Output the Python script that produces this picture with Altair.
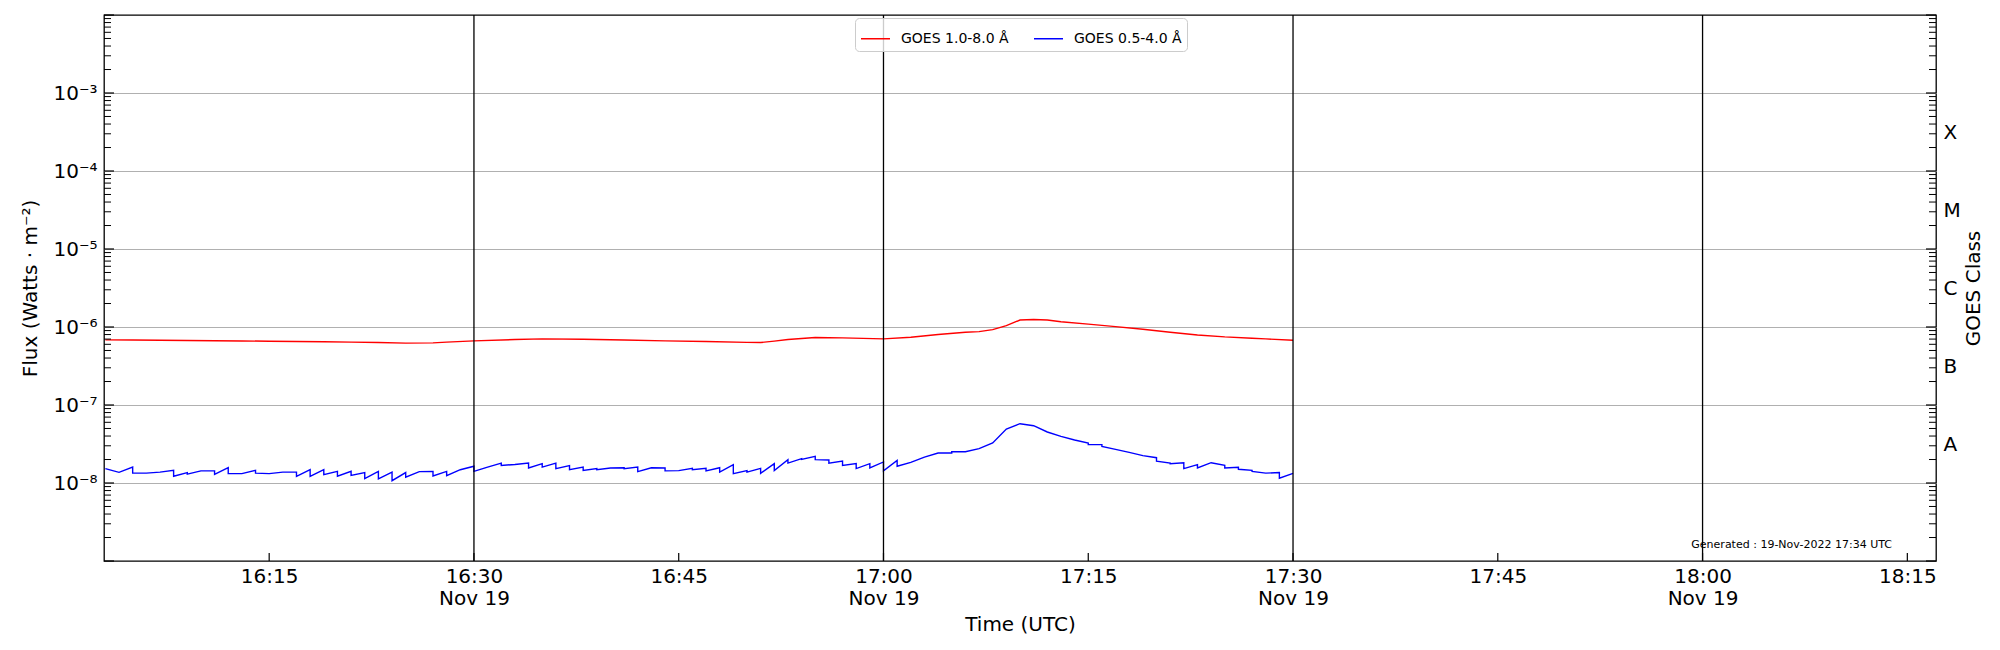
import json
import pandas as pd
import altair as alt

# ---------------- data ----------------
SERIES = ["GOES 1.0-8.0 Å", "GOES 0.5-4.0 Å"]
COLORS = ["red", "blue"]

# minutes after 16:00 UTC, 19-Nov-2022
red_minutes = [3, 5, 7, 9, 11, 13, 15, 17, 19, 21, 23, 25, 27, 28, 30, 33, 35, 38, 41, 44,
               47, 50, 51, 52, 53, 55, 57, 60, 62, 64, 66, 67, 68, 69, 70, 71, 72, 73, 75, 77,
               79, 81, 83, 85, 87, 88, 90]
# flux in units of 1e-7 W/m^2
red_flux_e7 = [6.84, 6.80, 6.75, 6.70, 6.66, 6.62, 6.58, 6.52, 6.46, 6.40, 6.32, 6.22, 6.26, 6.40,
               6.64, 6.90, 7.04, 6.98, 6.80, 6.64, 6.51, 6.36, 6.32, 6.60, 6.90, 7.32, 7.25, 7.04,
               7.39, 8.00, 8.56, 8.73, 9.25, 10.4, 12.3, 12.5, 12.3, 11.7, 10.9, 10.1, 9.34, 8.56,
               7.91, 7.46, 7.18, 7.04, 6.77]

blue_minutes = [3, 4, 5, 5, 6, 7, 8, 8, 9, 9, 10, 11, 11, 12, 12, 13, 14, 14, 15, 16,
                17, 17, 18, 18, 19, 19, 20, 20, 21, 21, 22, 22, 23, 23, 24, 24, 25, 25, 26, 27,
                27, 28, 28, 29, 30, 30, 31, 32, 32, 33, 34, 34, 35, 35, 36, 36, 37, 37, 38, 38,
                39, 39, 40, 41, 41, 42, 42, 43, 44, 44, 45, 46, 46, 47, 47, 48, 48, 49, 49, 50,
                50, 51, 51, 52, 52, 53, 53, 54, 54, 55, 55, 56, 56, 57, 57, 58, 58, 59, 59, 60,
                60, 61, 61, 62, 63, 64, 65, 65, 66, 67, 68, 69, 70, 71, 72, 73, 74, 75, 75, 76,
                76, 77, 78, 79, 80, 80, 81, 81, 82, 82, 83, 83, 84, 85, 85, 86, 86, 87, 87, 88,
                89, 89, 90]
# flux in units of 1e-8 W/m^2
blue_flux_e8 = [1.53, 1.37, 1.60, 1.34, 1.34, 1.38, 1.45, 1.22, 1.36, 1.30, 1.43, 1.43, 1.29, 1.57, 1.32,
                1.32, 1.45, 1.34, 1.32, 1.38, 1.38, 1.22, 1.48, 1.22, 1.48, 1.28, 1.41, 1.22, 1.41, 1.25,
                1.36, 1.14, 1.41, 1.13, 1.38, 1.07, 1.36, 1.19, 1.40, 1.41, 1.23, 1.41, 1.24, 1.48, 1.64,
                1.41, 1.60, 1.80, 1.68, 1.73, 1.80, 1.56, 1.77, 1.60, 1.80, 1.53, 1.67, 1.48, 1.60, 1.45,
                1.53, 1.48, 1.56, 1.57, 1.53, 1.60, 1.40, 1.57, 1.56, 1.43, 1.44, 1.54, 1.48, 1.54, 1.43,
                1.57, 1.38, 1.72, 1.32, 1.44, 1.38, 1.54, 1.33, 1.77, 1.44, 1.99, 1.80, 2.05, 2.01, 2.20,
                1.99, 1.97, 1.80, 1.91, 1.68, 1.77, 1.53, 1.77, 1.56, 1.86, 1.43, 1.95, 1.64, 1.84, 2.15,
                2.42, 2.42, 2.52, 2.52, 2.76, 3.26, 4.92, 5.76, 5.43, 4.51, 3.96, 3.56, 3.26, 3.10, 3.10,
                2.95, 2.70, 2.47, 2.24, 2.11, 1.90, 1.80, 1.77, 1.82, 1.53, 1.72, 1.56, 1.82, 1.68, 1.56,
                1.59, 1.50, 1.45, 1.41, 1.34, 1.36, 1.15, 1.33]

# black vertical lines (minutes after 16:00)
vline_minutes = [30, 60, 90, 120]
# x-axis tick positions (minutes after 16:00)
xtick_minutes = [15, 30, 45, 60, 75, 90, 105, 120, 135]
# x domain (minutes after 16:00)
x_domain_minutes = [2.9, 137.1]

# y axis
y_domain = [1e-9, 1e-2]
decade_labels = [1e-8, 1e-7, 1e-6, 1e-5, 1e-4, 1e-3]
major_ticks = [1e-9, 1e-8, 1e-7, 1e-6, 1e-5, 1e-4, 1e-3, 1e-2]
minor_ticks = [m * 10.0 ** e for e in range(-9, -2) for m in range(2, 10)]
goes_classes = ["X", "M", "C", "B", "A"]
goes_class_pos = [10 ** -3.5, 10 ** -4.5, 10 ** -5.5, 10 ** -6.5, 10 ** -7.5]

generated_text = "Generated : 19-Nov-2022 17:34 UTC"

# ---------------- build tables ----------------
BASE = pd.Timestamp("2022-11-19 16:00:00")


def iso(minutes):
    return [(BASE + pd.Timedelta(minutes=float(m))).strftime("%Y-%m-%dT%H:%M:%SZ") for m in minutes]


def dt(m):
    t = BASE + pd.Timedelta(minutes=float(m))
    return alt.DateTime(year=t.year, month=t.month, date=t.day, hours=t.hour,
                        minutes=t.minute, seconds=t.second, utc=True)


red_df = pd.DataFrame({"t": iso(red_minutes), "flux": [v * 1e-7 for v in red_flux_e7],
                       "series": SERIES[0], "idx": range(len(red_minutes))})
blue_df = pd.DataFrame({"t": iso(blue_minutes), "flux": [v * 1e-8 for v in blue_flux_e8],
                        "series": SERIES[1], "idx": range(len(blue_minutes))})
lines_df = pd.concat([red_df, blue_df], ignore_index=True)

vline_df = pd.DataFrame({"t": iso(vline_minutes)})
xtick_df = pd.DataFrame({"t": iso(xtick_minutes)})
major_df = pd.DataFrame({"v": major_ticks})
minor_df = pd.DataFrame({"v": minor_ticks})

W, H = 1832, 546
FONT = "DejaVu Sans"

x_scale = alt.Scale(type="utc", domain=[dt(x_domain_minutes[0]), dt(x_domain_minutes[1])])
y_scale = alt.Scale(type="log", domain=y_domain)

sup = ["⁰", "¹", "²", "³", "⁴", "⁵", "⁶", "⁷", "⁸", "⁹"]
y_label_expr = "'10⁻' + " + json.dumps(sup, ensure_ascii=False) + "[round(-log(datum.value)/LN10)]"
class_label_expr = (json.dumps(goes_classes) +
                    "[(round(-2*log(datum.value)/LN10) - 7) / 2]")
x_label_expr = ("utcminutes(datum.value) % 30 == 0 ? "
                "[utcFormat(datum.value, '%H:%M'), utcFormat(datum.value, '%b %-d')] : "
                "utcFormat(datum.value, '%H:%M')")

lines = alt.Chart(lines_df).mark_line(strokeWidth=1.4, interpolate="linear").encode(
    x=alt.X("t:T", scale=x_scale,
            axis=alt.Axis(orient="bottom", values=[dt(m) for m in xtick_minutes],
                          labelExpr=x_label_expr,
                          ticks=False, domain=False, grid=False, labelPadding=5,
                          labelLineHeight=22, labelFontSize=20, title="Time (UTC)",
                          titlePadding=6, titleFontSize=20, labelOverlap=False)),
    y=alt.Y("flux:Q", scale=y_scale,
            axis=alt.Axis(orient="left", values=decade_labels, labelExpr=y_label_expr,
                          ticks=False, domain=False, grid=True, gridColor="#b0b0b0",
                          gridWidth=1, labelFontSize=20, labelPadding=7,
                          title="Flux (Watts · m⁻²)", titleFontSize=20, titlePadding=12)),
    color=alt.Color("series:N", scale=alt.Scale(domain=SERIES, range=COLORS),
                    legend=alt.Legend(orient="none", legendX=751, legendY=3,
                                      direction="horizontal", title=None,
                                      symbolType="stroke", symbolSize=841,
                                      symbolStrokeWidth=1.5, labelFontSize=14,
                                      labelFont=FONT, labelOffset=10, columnPadding=22,
                                      padding=5, strokeColor="#cccccc",
                                      fillColor="rgba(255,255,255,0.8)",
                                      cornerRadius=4, labelLimit=400)),
    order="idx:Q",
)

vlines = alt.Chart(vline_df).mark_rule(color="black", strokeWidth=1.3).encode(
    x=alt.X("t:T")
)

xticks = alt.Chart(xtick_df).mark_rule(color="black", strokeWidth=1.2).encode(
    x=alt.X("t:T"),
    y=alt.value(H), y2=alt.value(H - 8),
)

left_major = alt.Chart(major_df).mark_rule(color="black", strokeWidth=1.2).encode(
    y=alt.Y("v:Q", scale=y_scale, axis=None), x=alt.value(0), x2=alt.value(10))
left_minor = alt.Chart(minor_df).mark_rule(color="black", strokeWidth=1.0).encode(
    y=alt.Y("v:Q", scale=y_scale, axis=None), x=alt.value(0), x2=alt.value(7))
right_minor = alt.Chart(minor_df).mark_rule(color="black", strokeWidth=1.0).encode(
    y=alt.Y("v:Q", scale=y_scale, axis=None), x=alt.value(W), x2=alt.value(W - 7))
right_major = alt.Chart(major_df).mark_rule(color="black", strokeWidth=1.2).encode(
    y=alt.Y("v:Q", scale=y_scale,
            axis=alt.Axis(orient="right", values=goes_class_pos, labelExpr=class_label_expr,
                          ticks=False, domain=False, grid=False, labelFontSize=20,
                          labelPadding=7, title="GOES Class", titleFontSize=20,
                          titleAngle=270, titleBaseline="top", titlePadding=3)),
    x=alt.value(W), x2=alt.value(W - 10))

gen_text = alt.Chart(pd.DataFrame({"txt": [generated_text]})).mark_text(
    align="right", baseline="middle", fontSize=11, font=FONT, color="black"
).encode(text="txt:N", x=alt.value(1788), y=alt.value(530))

chart = alt.layer(
    lines, vlines, xticks, left_major, left_minor, right_minor, right_major, gen_text
).resolve_axis(y="independent").properties(
    width=W, height=H,
    padding={"left": 96, "top": 7, "right": 56, "bottom": 81},
    autosize=alt.AutoSizeParams(type="none"),
).configure(font=FONT).configure_view(
    stroke="black", strokeWidth=1.3
).configure_axis(
    labelFont=FONT, titleFont=FONT, labelColor="black", titleColor="black",
    titleFontWeight="normal"
)

chart.save("out.html", embed_options={"renderer": "svg", "actions": False})
